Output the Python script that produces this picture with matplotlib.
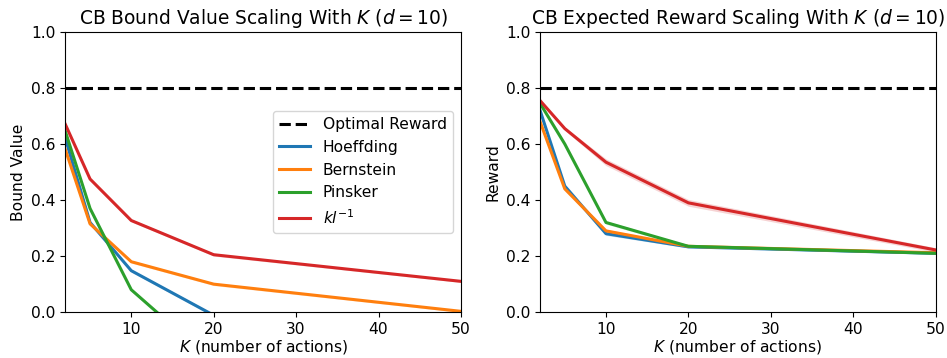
import matplotlib
matplotlib.use("Agg")
from matplotlib import pyplot as plt
import numpy as np

plt.rcParams['font.size'] = 11.2

# number of actions
K = np.array([2, 5, 10, 20, 50])
optimal_reward = 0.8

# bound values (mean over runs)
bound_hoeffding = np.array([0.62, 0.32, 0.148, -0.011, -0.25])
bound_bernstein = np.array([0.58, 0.315, 0.18, 0.10, 0.003])
bound_pinsker = np.array([0.645, 0.37, 0.08, -0.178, -0.6])
bound_kl = np.array([0.67, 0.475, 0.327, 0.205, 0.11])

# expected reward (mean over runs)
reward_hoeffding = np.array([0.72, 0.45, 0.28, 0.233, 0.21])
reward_bernstein = np.array([0.68, 0.44, 0.29, 0.235, 0.212])
reward_pinsker = np.array([0.745, 0.60, 0.32, 0.235, 0.21])
reward_kl = np.array([0.755, 0.655, 0.535, 0.39, 0.222])

# standard errors
bound_err = np.array([0.003, 0.004, 0.005, 0.005, 0.004])
reward_err = np.array([0.004, 0.006, 0.012, 0.012, 0.008])
reward_err_small = np.array([0.003, 0.004, 0.006, 0.004, 0.003])

names = ['Hoeffding', 'Bernstein', 'Pinsker', '$kl^{-1}$']
colors = ['C0', 'C1', 'C2', 'C3']

fig, (ax1, ax2) = plt.subplots(1, 2, figsize=(9.47, 3.58), dpi=100)

ax1.axhline(optimal_reward, color='k', linestyle='--', lw=2.2, label='Optimal Reward')
for vals, name, c in zip([bound_hoeffding, bound_bernstein, bound_pinsker, bound_kl], names, colors):
    ax1.plot(K, vals, color=c, lw=2.2, label=name)
    ax1.fill_between(K, vals - bound_err, vals + bound_err, color=c, alpha=0.2, lw=0)
ax1.set_xlim(2, 50)
ax1.set_ylim(0, 1)
ax1.set_xlabel('$K$ (number of actions)', labelpad=1)
ax1.set_ylabel('Bound Value')
ax1.set_title('CB Bound Value Scaling With $K$ ($d=10$)', fontsize=13.4)
ax1.legend(loc='center right')

ax2.axhline(optimal_reward, color='k', linestyle='--', lw=2.2)
errs = [reward_err_small, reward_err_small, reward_err_small, reward_err]
for vals, err, c in zip([reward_hoeffding, reward_bernstein, reward_pinsker, reward_kl], errs, colors):
    ax2.plot(K, vals, color=c, lw=2.2)
    ax2.fill_between(K, vals - err, vals + err, color=c, alpha=0.2, lw=0)
ax2.set_xlim(2, 50)
ax2.set_ylim(0, 1)
ax2.set_xlabel('$K$ (number of actions)', labelpad=1)
ax2.set_ylabel('Reward')
ax2.set_title('CB Expected Reward Scaling With $K$ ($d=10$)', fontsize=13.4)

plt.subplots_adjust(left=0.069, right=0.988, bottom=0.128, top=0.911, wspace=0.2)
plt.savefig('out.png')
